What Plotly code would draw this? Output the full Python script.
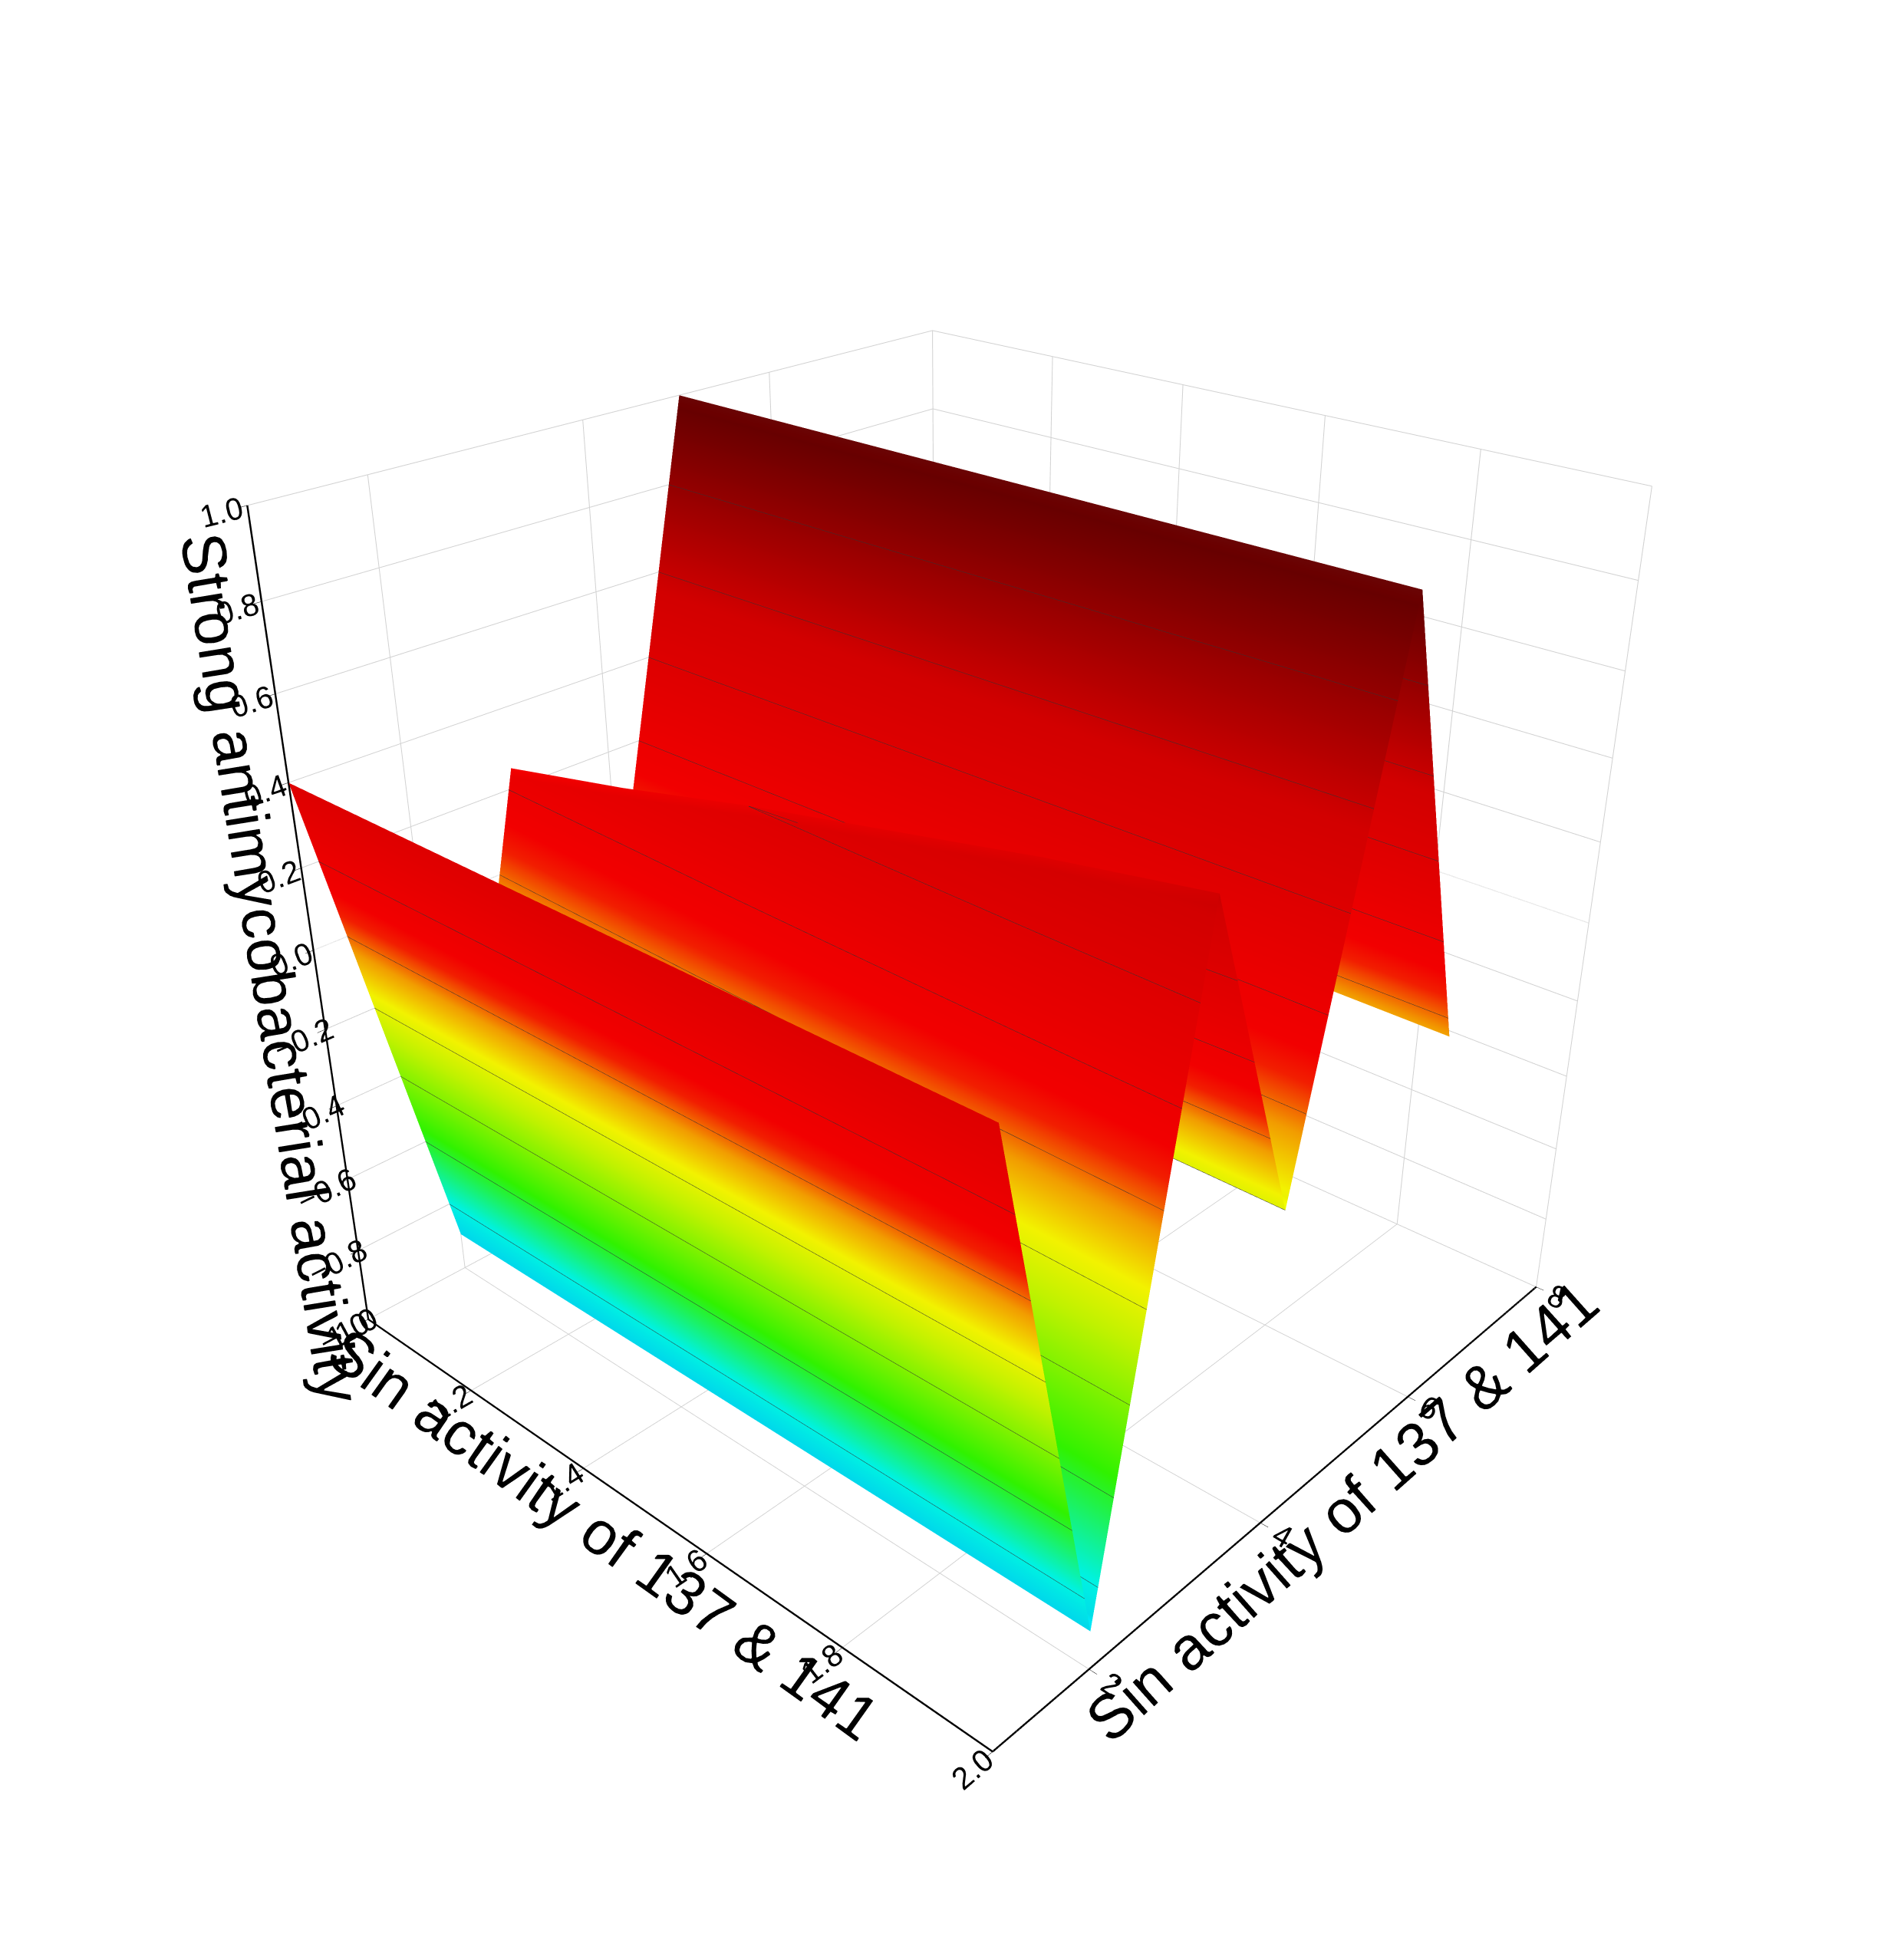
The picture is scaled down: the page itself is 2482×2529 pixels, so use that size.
import plotly.graph_objects as go

x_vals = [1.0, 1.2, 1.4, 1.6, 1.8, 2.0]
y_vals = [1, 2, 3, 4, 5, 6]
# rows: y, columns: x
z_vals = [
    [0.40, 0.40, 0.40, 0.40, 0.40, 0.40],
    [-0.90, -0.90, -0.90, -0.90, -0.90, -0.90],
    [0.25, 0.32, 0.40, 0.47, 0.54, 0.60],
    [-0.20, -0.20, -0.20, -0.20, -0.20, -0.20],
    [1.00, 1.00, 1.00, 1.00, 1.00, 1.00],
    [-0.05, -0.05, -0.05, -0.05, -0.05, -0.05],
]

colorscale = [
    [0.0, "#00c8ff"], [0.1, "#00ffee"], [0.22, "#33ff00"], [0.36, "#ccff00"], [0.42, "#ffff00"],
    [0.48, "#ffa500"], [0.53, "#ff2000"], [0.56, "#ff0000"], [0.78, "#dd0000"], [1.0, "#660000"],
]

fig = go.Figure(go.Surface(
    x=x_vals, y=y_vals, z=z_vals, colorscale=colorscale, cmin=-1, cmax=1,
    showscale=False,
    lighting=dict(ambient=0.95, diffuse=0.2, specular=0.02),
    contours=dict(z=dict(show=True, start=-1, end=1, size=0.2, color="#333333", width=1)),
))

ax_font = dict(family="Liberation Sans, Arial", size=80, color="black")
tick_font = dict(family="Liberation Sans, Arial", size=22, color="black")
common = dict(showbackground=False, gridcolor="#d0d0d0", showline=True, linecolor="black",
              linewidth=5, ticks="outside", tickcolor="black", ticklen=10,
              tickfont=tick_font, showspikes=False)

fig.update_layout(
    width=2482, height=2529, paper_bgcolor="white",
    margin=dict(l=0, r=0, t=0, b=0),
    scene=dict(
        xaxis=dict(title=dict(text="Sin activity of 137 & 141", font=ax_font),
                   range=[1.0, 2.0], dtick=0.2, tickformat=".1f", **common),
        yaxis=dict(title=dict(text="Sin activity of 137 & 141", font=ax_font),
                   range=[1, 8], tickvals=[2, 4, 6, 8], **common),
        zaxis=dict(title=dict(text="Strong antimycobacterial activity", font=ax_font),
                   range=[-1, 1], dtick=0.2, tickformat=".1f", **common),
        aspectmode="cube",
        camera=dict(eye=dict(x=1.55, y=-1.7, z=1.2), center=dict(x=0, y=0, z=-0.05)),
    ),
)
fig.write_html("out.html")
